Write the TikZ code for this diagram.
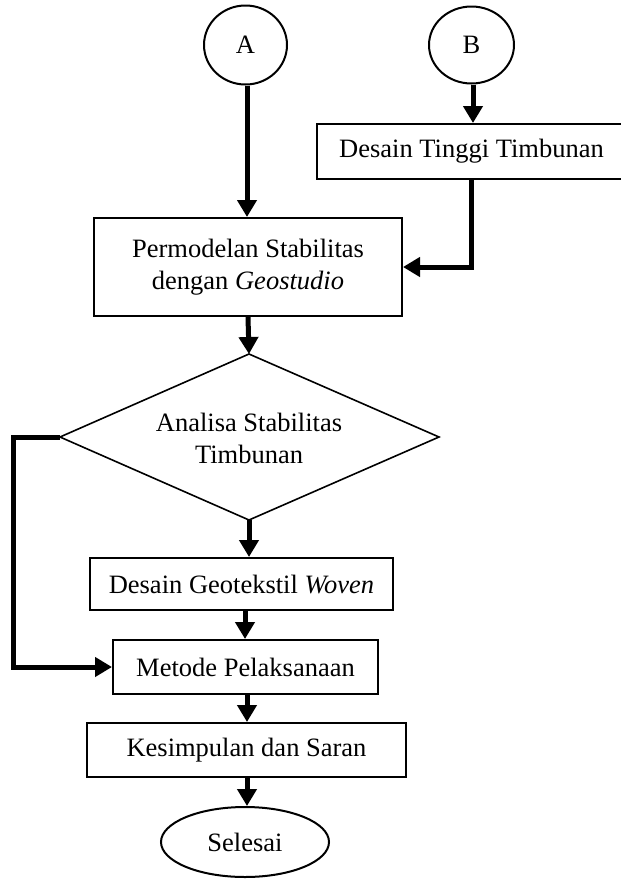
\documentclass[tikz,border=0pt]{standalone}
\usepackage{fontspec}
\setmainfont{Liberation Serif}
\usetikzlibrary{arrows.meta,shapes.geometric}
\begin{document}
\begin{tikzpicture}[x=1pt,y=-1pt,
  every node/.style={font=\fontsize{26.5}{32}\selectfont, inner sep=0pt, align=center},
  box/.style={draw, line width=2pt, rectangle},
  term/.style={draw, line width=2pt, ellipse},
  flow/.style={line width=5pt, -{Triangle[length=17pt,width=19pt]}},
  plain/.style={line width=5pt}]
\useasboundingbox (0,0) rectangle (621,879);
\node[term, minimum width=83pt, minimum height=79pt] (A) at (245.5,45) {A};
\node[term, minimum width=85pt, minimum height=77pt] (B) at (471.5,45) {B};
\node[box, minimum width=309pt, minimum height=55pt] (dtt) at (471.5,151.5) {Desain Tinggi Timbunan};
\node[box, minimum width=308pt, minimum height=98pt] (perm) at (248,267) {Permodelan Stabilitas\\dengan \textit{Geostudio}};
\coordinate (dtop) at (249,354);
\coordinate (dright) at (439,437);
\coordinate (dbot) at (249,520);
\coordinate (dleft) at (60,437);
\draw[line width=1.6pt, line join=miter] (dtop) -- (dright) -- (dbot) -- (dleft) -- cycle;
\node (dtext) at (249,438) {Analisa Stabilitas\\Timbunan};
\node[box, minimum width=303pt, minimum height=52pt] (geo) at (241.5,584) {Desain Geotekstil \textit{Woven}};
\node[box, minimum width=265pt, minimum height=54pt] (met) at (245.5,667) {Metode Pelaksanaan};
\node[box, minimum width=319pt, minimum height=54pt] (kes) at (246.5,750) {Kesimpulan dan Saran};
\node[term, minimum width=168pt, minimum height=70pt] (sel) at (245,842) {Selesai};
\coordinate (fb) at (13,437);
% connectors
\draw[flow] ([xshift=1.5pt]A.south) -- ([xshift=1.5pt]A.south |- perm.north);
\draw[flow] ([xshift=1.5pt]B.south) -- ([xshift=1.5pt]B.south |- dtt.north);
\draw[flow] (dtt.south) |- (perm.east);
\draw[flow] (perm.south) -- (dtop);
\draw[flow] (dbot) -- (dbot |- geo.north);
\draw[flow] ([xshift=3.5pt]geo.south) -- ([xshift=3.5pt]geo.south |- met.north);
\draw[flow] ([xshift=1.5pt]met.south) -- ([xshift=1.5pt]met.south |- kes.north);
\draw[flow] ([xshift=0.5pt]kes.south) -- ([xshift=0.5pt]kes.south |- sel.north);
\draw[flow, line join=miter] (dleft) -- (fb) |- (met.west);
\end{tikzpicture}
\end{document}
